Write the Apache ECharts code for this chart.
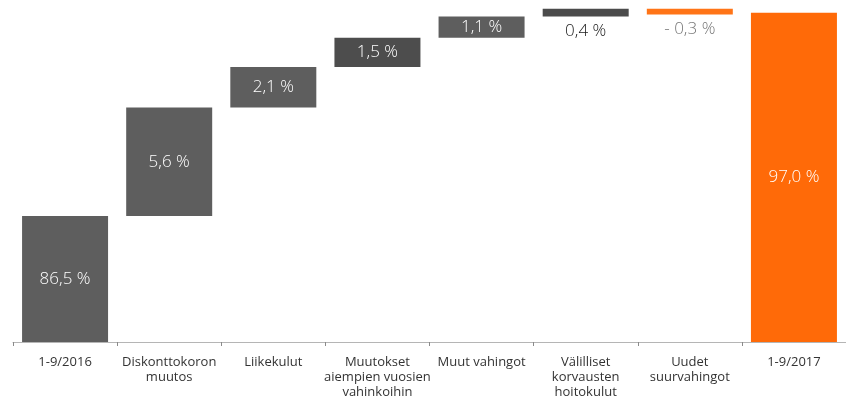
<!DOCTYPE html>
<html>
<head>
<meta charset="utf-8">
<script src="https://cdn.jsdelivr.net/npm/echarts@6/dist/echarts.min.js"></script>
<style>
body { margin: 0; padding: 0; background: #fff; }
#chart { width: 846px; height: 400px; }
</style>
</head>
<body>
<div id="chart"></div>
<script>
// kategoriat ja muutokset (%)
const categories = [
  "1-9/2016",
  "Diskonttokoron\nmuutos",
  "Liikekulut",
  "Muutokset\naiempien vuosien\nvahinkoihin",
  "Muut vahingot",
  "Välilliset\nkorvausten\nhoitokulut",
  "Uudet\nsuurvahingot",
  "1-9/2017"
];
const values = [86.5, 5.6, 2.1, 1.5, 1.1, 0.4, -0.3, 97.0];
const isTotal = [true, false, false, false, false, false, false, true];
const barColors = ["#5e5e5e", "#5e5e5e", "#5e5e5e", "#4d4d4d", "#5e5e5e", "#4b4b4b", "#ff7417", "#ff6a08"];

// pohja (läpinäkyvä) + näkyvä osa
const base = [];
const shown = [];
let running = 0;
values.forEach((v, i) => {
  if (isTotal[i]) {
    base.push(0);
    shown.push(v);
    running = v;
  } else if (v >= 0) {
    base.push(running);
    shown.push(v);
    running += v;
  } else {
    running += v;
    base.push(running);
    shown.push(-v);
  }
});

function fmt(v) {
  const s = Math.abs(v).toFixed(1).replace(".", ",") + " %";
  return v < 0 ? "- " + s : s;
}

const shownData = shown.map((v, i) => {
  const item = { value: v, itemStyle: { color: barColors[i] } };
  if (Math.abs(values[i]) < 0.8) {
    item.label = {
      position: "bottom",
      distance: 6,
      color: values[i] < 0 ? "#777777" : "#1a1a1a"
    };
  }
  return item;
});

const chart = echarts.init(document.getElementById("chart"));
chart.setOption({
  animation: false,
  grid: { left: 13, right: 0, top: 3, bottom: 58 },
  xAxis: {
    type: "category",
    data: categories,
    axisLine: { lineStyle: { color: "#b5b5b5", width: 1 } },
    axisTick: { show: true, length: 4, lineStyle: { color: "#8a8a8a" } },
    axisLabel: {
      interval: 0,
      color: "#333333",
      fontFamily: "Open Sans",
      fontSize: 13,
      lineHeight: 15,
      margin: 13
    }
  },
  yAxis: {
    type: "value",
    min: 80,
    max: 97.5,
    show: false,
    splitLine: { show: false }
  },
  series: [
    {
      type: "bar",
      stack: "w",
      data: base,
      barWidth: 86,
      itemStyle: { color: "transparent" },
      emphasis: { disabled: true },
      silent: true
    },
    {
      type: "bar",
      stack: "w",
      data: shownData,
      barWidth: 86,
      label: {
        show: true,
        position: "inside",
        color: "#ffffff",
        fontFamily: "Open Sans",
        fontWeight: 300,
        fontSize: 17,
        formatter: p => fmt(values[p.dataIndex])
      }
    }
  ]
});
</script>
</body>
</html>
